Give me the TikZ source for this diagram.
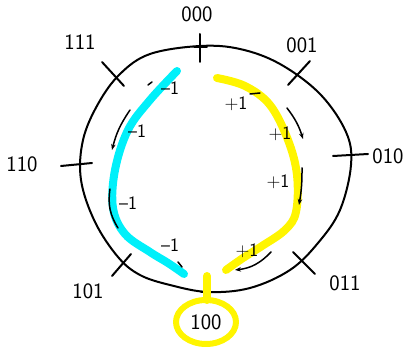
\documentclass[tikz,border=0pt]{standalone}
\usetikzlibrary{arrows.meta}
\definecolor{penblue}{RGB}{0,240,250}
\definecolor{penyellow}{RGB}{255,245,0}
\begin{document}
\begin{tikzpicture}[x=1pt,y=-1pt,line cap=round,line join=round,
    font=\sffamily\fontsize{22}{24}\selectfont]
  \useasboundingbox (0,0) rectangle (410,352);
  % 外圈
  \draw[line width=2pt] plot[smooth cycle, tension=0.6] coordinates {
    (200,46) (240,49) (280,64) (320,94) (346,132) (351,165) (340,210)
    (318,243) (290,270) (250,288) (208,292) (170,285) (140,275) (118,257)
    (95,222) (81,180) (83,140) (98,104) (120,74) (150,54)};
  % 刻度
  \draw[line width=2pt] (200,34) -- (200,62);
  \draw[line width=2pt] (194,47) -- (207,47);
  \draw[line width=2pt] (102,62) -- (124,86);
  \draw[line width=2pt] (61,166) -- (92,163);
  \draw[line width=2pt] (112,276) -- (131,254);
  \draw[line width=2pt] (207,284) -- (207,300);
  \draw[line width=2pt] (201,292) -- (213,292);
  \draw[line width=2pt] (293,252) -- (315,274);
  \draw[line width=2pt] (333,156) -- (368,154);
  \draw[line width=2pt] (288,85) -- (310,61);
  % 状态标注
  \node (s000) at (197,14) {000};
  \node (s001) at (302,45) {001};
  \node (s010) at (388,156) {010};
  \node (s011) at (345,283) {011};
  \node (s100) at (206,322) {100};
  \node (s101) at (88,291) {101};
  \node (s110) at (22,164) {110};
  \node (s111) at (80,42) {111};
  % 青色路径
  \draw[penblue, line width=8pt] plot[smooth, tension=0.6] coordinates {
    (177,71) (150,100) (128,130) (115,170) (113,208) (125,234) (150,252)
    (168,263) (184,274)};
  % 黄色路径
  \draw[penyellow, line width=8pt] plot[smooth, tension=0.6] coordinates {
    (217,78) (245,86) (270,105) (288,140) (297,175) (296,212) (285,230)
    (262,246) (243,258) (226,270)};
  \draw[penyellow, line width=8pt] (207,276) -- (207,300);
  \draw[penyellow, line width=6pt] (206,322) ellipse (30 and 22);
  % -1 标注
  \begin{scope}[font=\sffamily\fontsize{19}{21}\selectfont, line width=1.5pt]
    \node (m1) at (170,88) {--1};
    \node (m2) at (137,131) {--1};
    \node (m3) at (128,203) {--1};
    \node (m4) at (170,245) {--1};
    \draw (148,85) -- (152,82);
    \draw[-{Stealth[length=6pt]}] (130,110) to[bend right=10] (112,150);
    \draw (110,189) to[bend right=20] (118,228);
    \draw (178,262) -- (182,267);
  % +1 标注
    \node (p1) at (236,104) {+1};
    \node (p2) at (280,134) {+1};
    \node (p3) at (278,182) {+1};
    \node (p4) at (247,251) {+1};
    \draw (250,94) -- (260,93);
    \draw[-{Stealth[length=6pt]}] (287,108) to[bend left=10] (303,139);
    \draw[-{Stealth[length=6pt]}] (302,168) to[bend left=5] (299,205);
    \draw[-{Stealth[length=6pt]}] (271,252) to[bend left=20] (235,270);
  \end{scope}
\end{tikzpicture}
\end{document}
